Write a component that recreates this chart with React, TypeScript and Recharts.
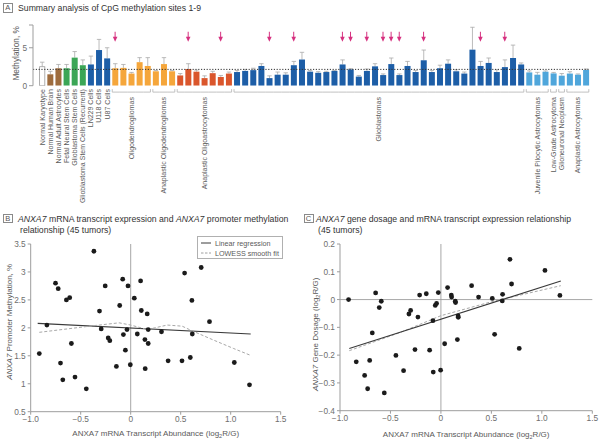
import React from 'react';
import { ComposedChart, Bar, XAxis, YAxis, ReferenceLine, Scatter, Line } from 'recharts';

const FONT = '"Liberation Sans", Arial, Helvetica, sans-serif';
const AXIS_COLOR = '#9d9d9d';
const TICK_COLOR = '#6e6e6e';
const LABEL_COLOR = '#5a5a5a';

// ---------------- Panel A data ----------------
const sampleLabels = [
  'Normal Karyotype', 'Normal Human Brain', 'Normal Adult Astrocytes', 'Fetal Neural Stem Cells',
  'Glioblastoma Stem Cells', 'Glioblastoma Stem Cells (Recurrent)', 'LN229 Cells', 'U118 Cells', 'U87 Cells',
];
const sampleColors = ['#ffffff', '#9e6c3e', '#9e6c3e', '#3ba656', '#3ba656', '#3ba656', '#1d5ea7', '#1d5ea7', '#1d5ea7'];
const groupLabels = [
  'Oligodendrogliomas', 'Anaplastic Oligodendrogliomas', 'Anaplastic Oligoastrocytomas', 'Glioblastomas',
  'Juvenile Pilocytic Astrocytomas', 'Low-Grade Astrocytoma', 'Glioneuronal Neoplasm', 'Anaplastic Astrocytomas',
];
const groupSizes = [5, 3, 7, 36, 3, 1, 1, 3];
const groupColors = ['#f5a63b', '#f5a63b', '#da562c', '#1d5ea7', '#4fa6db', '#4fa6db', '#4fa6db', '#4fa6db'];

const methylation = [
  2.5, 1.5, 2.3, 2.3, 3.7, 2.7, 2.8, 4.7, 3.6,
  2.3, 2.35, 1.6, 3.1, 2.6,
  1.9, 2.85, 1.9,
  1.35, 2.2, 1.85, 1.0, 1.65, 1.15, 1.6,
  1.8, 1.95, 2.05, 2.6, 1.0, 1.45, 1.45, 2.7, 3.45, 1.85, 1.7, 1.8, 1.95, 2.8, 2.15, 1.2, 1.95, 2.55,
  1.4, 2.85, 1.4, 2.6, 1.8, 3.35, 1.8, 2.3, 2.9, 1.9, 1.6, 4.75, 2.6, 3.0, 1.8, 2.45, 3.65, 2.8,
  1.75, 1.45, 1.84, 1.62, 1.32, 1.6, 1.45, 2.07,
];
const methylationUpper = [
  3.1, 1.9, 2.8, 2.8, 4.5, 3.4, 3.9, 6.1, 5.0,
  2.9, 2.8, 1.75, 3.7, 3.7,
  2.0, 3.7, 2.0,
  1.6, 2.9, 2.05, 1.3, 1.9, 1.35, 1.8,
  2.0, 2.15, 2.3, 2.9, 1.3, 1.8, 1.7, 3.2, 4.4, 2.0, 1.85, 1.9, 2.0, 3.4, 2.25, 1.35, 2.2, 2.9,
  1.55, 3.65, 1.55, 3.2, 2.0, 4.7, 2.0, 2.7, 3.4, 2.1, 1.8, 7.7, 3.2, 3.65, 2.1, 3.4, 5.35, 3.0,
  1.95, 1.76, 1.95, 1.75, 1.6, 1.84, 1.55, 2.2,
];
const arrowBars = [10, 19, 23, 29, 32, 38, 39, 41, 43, 44, 45, 48, 55, 58];
const ARROW_LEVEL = 6.45;
const REFERENCE_LEVEL = 2.15;
const aYTicks = [0, 5, 8];

// ---------------- Panel B data ----------------
const bX = [
  -0.914, -0.838, -0.752, -0.725, -0.702, -0.679, -0.643, -0.61, -0.593, -0.557, -0.444, -0.368, -0.312,
  -0.295, -0.255, -0.225, -0.209, -0.143, -0.11, -0.08, -0.073, -0.053, -0.037, -0.027, -0.004, 0.036,
  0.066, 0.099, 0.106, 0.142, 0.145, 0.165, 0.175, 0.175, 0.308, 0.374, 0.513, 0.539, 0.596, 0.612,
  0.616, 0.705, 0.788, 1.036, 1.188,
];
const bY = [
  1.54, 2.05, 2.8, 2.7, 1.37, 1.07, 2.5, 2.54, 1.72, 1.12, 0.91, 3.37, 2.3, 1.98, 2.75, 1.82, 1.77,
  1.31, 2.4, 2.87, 1.88, 1.6, 1.97, 2.75, 1.34, 2.53, 1.89, 2.84, 2.31, 1.79, 1.27, 2.25, 1.97, 1.72,
  1.93, 1.41, 1.41, 2.98, 1.47, 2.49, 1.89, 3.08, 2.11, 1.38, 0.98,
];
const bLinearX = [-0.93, 1.2];
const bLinearY = [2.08, 1.89];
const bLowessX = [-0.914, -0.365, -0.116, 0.0, 0.166, 0.365, 0.515, 0.598, 0.83, 1.03, 1.196];
const bLowessY = [1.92, 2.04, 2.09, 2.05, 1.97, 2.05, 2.03, 1.96, 1.78, 1.63, 1.51];
const bYTicks = [0.5, 1, 1.5, 2, 2.5, 3, 3.5];

// ---------------- Panel C data ----------------
const cX = [
  -0.915, -0.839, -0.756, -0.726, -0.706, -0.68, -0.647, -0.611, -0.591, -0.561, -0.446, -0.37, -0.317,
  -0.3, -0.257, -0.228, -0.211, -0.145, -0.112, -0.079, -0.076, -0.056, -0.043, -0.026, -0.003, 0.037,
  0.066, 0.103, 0.106, 0.142, 0.145, 0.163, 0.17, 0.172, 0.304, 0.373, 0.509, 0.532, 0.608, 0.611,
  0.684, 0.7, 0.776, 1.031, 1.179,
];
const cY = [
  0.0, -0.224, -0.273, -0.321, -0.219, -0.12, 0.024, -0.029, -0.006, -0.336, -0.201, -0.256, -0.052,
  -0.039, -0.18, -0.063, 0.016, 0.021, -0.182, -0.076, -0.261, -0.021, -0.014, 0.025, -0.254, -0.159,
  0.043, 0.016, 0.009, -0.006, -0.011, -0.144, -0.059, -0.064, 0.05, 0.009, 0.004, -0.125, -0.005,
  0.019, 0.145, 0.056, -0.176, 0.105, 0.015,
];
const cLinearX = [-0.908, 1.188];
const cLinearY = [-0.176, 0.067];
const cLowessX = [-0.908, -0.4, 0.0, 0.5, 1.188];
const cLowessY = [-0.184, -0.118, -0.058, -0.008, 0.05];
const cYTicks = [-0.4, -0.3, -0.2, -0.1, 0, 0.1, 0.2];

const mrnaTicks = [-1, -0.5, 0, 0.5, 1, 1.5];

// ---------------- derived tables ----------------
type ABar = {
  id: string; value: number; upper: number; color: string; sample: string;
  group: number; pos: number; size: number; arrow: number | null;
};
const aData: ABar[] = methylation.map((v, i) => {
  let group = -1, pos = 0, size = 0;
  if (i >= sampleLabels.length) {
    let k = i - sampleLabels.length;
    for (let g = 0; g < groupSizes.length; g++) {
      if (k < groupSizes[g]) { group = g; pos = k; size = groupSizes[g]; break; }
      k -= groupSizes[g];
    }
  }
  return {
    id: 'b' + i,
    value: v,
    upper: methylationUpper[i],
    color: group < 0 ? sampleColors[i] : groupColors[group],
    sample: group < 0 ? sampleLabels[i] : '',
    group, pos, size,
    arrow: arrowBars.includes(i + 1) ? ARROW_LEVEL : null,
  };
});
const aById: Record<string, ABar> = {};
aData.forEach((d) => { aById[d.id] = d; });

const zip = (xs: number[], ys: number[]) => xs.map((x, i) => ({ x, y: ys[i] }));
const bPoints = zip(bX, bY);
const bLinear = zip(bLinearX, bLinearY);
const bLowess = zip(bLowessX, bLowessY);
const cPoints = zip(cX, cY);
const cLinear = zip(cLinearX, cLinearY);
const cLowess = zip(cLowessX, cLowessY);

// ---------------- layout constants ----------------
const A_W = 600;
const A_H = 215;
const A_MARGIN = { top: 25, right: 10, left: 0, bottom: 0 };
const A_YAXIS_W = 33;
const A_PAD_LEFT = 5;
const A_XAXIS_H = 129.3;
const BAND = (A_W - A_MARGIN.right - A_MARGIN.left - A_YAXIS_W - A_PAD_LEFT) / aData.length;

// ---------------- renderers ----------------
const fmtSigned1 = (v: number) => (v === 0 ? '0' : (v < 0 ? '\u2212' : '') + Math.abs(v).toFixed(1));
const fmtPlain = (v: number) => String(v);

function BarShape(props: any) {
  const { x, y, width, height, payload } = props;
  if (!payload || !isFinite(height) || height <= 0) return <g />;
  const perUnit = height / payload.value;
  const topY = y - (payload.upper - payload.value) * perUnit;
  const cx = x + width / 2;
  const isWhite = payload.color === '#ffffff';
  return (
    <g>
      {payload.upper > payload.value && (
        <g stroke="#a9a9a9" strokeWidth={0.8}>
          <line x1={cx} x2={cx} y1={y} y2={topY} />
          <line x1={cx - 2.2} x2={cx + 2.2} y1={topY} y2={topY} />
        </g>
      )}
      <rect
        x={isWhite ? x + 0.4 : x}
        y={y}
        width={isWhite ? width - 0.8 : width}
        height={height}
        fill={payload.color}
        stroke={isWhite ? '#9a9a9a' : 'none'}
        strokeWidth={0.8}
      />
    </g>
  );
}

function ArrowShape(props: any) {
  const { cx, cy, payload } = props;
  if (!payload || payload.arrow == null || !isFinite(cx) || !isFinite(cy)) return <g />;
  const c = '#d6307f';
  return (
    <g>
      <line x1={cx} x2={cx} y1={cy - 5} y2={cy + 1} stroke={c} strokeWidth={1} />
      <path d={`M${cx - 2.3},${cy} L${cx + 2.3},${cy} L${cx},${cy + 5} Z`} fill={c} />
    </g>
  );
}

function ATick(props: any) {
  const { x, y, payload } = props;
  const d = aById[payload && payload.value];
  if (!d) return <g />;
  if (d.group < 0) {
    return (
      <text
        transform={`translate(${x + 2.5},${y + 3.4}) rotate(-90)`}
        textAnchor="end"
        fontSize={7}
        fill={LABEL_COLOR}
        fontFamily={FONT}
      >
        {d.sample}
      </text>
    );
  }
  const half = BAND / 2;
  const first = d.pos === 0;
  const last = d.pos === d.size - 1;
  const x1 = first ? x - half + 1.2 : x - half;
  const x2 = last ? x + half - 1.2 : x + half;
  const by = y + 6.4;
  return (
    <g>
      <g stroke="#b3b3b3" strokeWidth={0.8}>
        <line x1={x1} x2={x2} y1={by} y2={by} />
        {first && <line x1={x1} x2={x1} y1={by} y2={by - 3} />}
        {last && <line x1={x2} x2={x2} y1={by} y2={by - 3} />}
      </g>
      {first && (
        <text
          transform={`translate(${x + ((d.size - 1) / 2) * BAND + 2.5},${y + 11.4}) rotate(-90)`}
          textAnchor="end"
          fontSize={7}
          fill={LABEL_COLOR}
          fontFamily={FONT}
        >
          {groupLabels[d.group]}
        </text>
      )}
    </g>
  );
}

function Dot(props: any) {
  const { cx, cy } = props;
  if (!isFinite(cx) || !isFinite(cy)) return <g />;
  return <circle cx={cx} cy={cy} r={2.4} fill="#1b1b1b" />;
}

const tickStyle = { fontSize: 8.3, fill: TICK_COLOR, fontFamily: FONT };

const mrnaTitle = (dy: number) => (props: any) => {
  const vb = props.viewBox || { x: 0, y: 0, width: 0 };
  return (
    <text x={vb.x + vb.width / 2} y={vb.y + dy} textAnchor="middle" fontSize={8} fill={LABEL_COLOR} fontFamily={FONT}>
      ANXA7 mRNA Transcript Abundance (log<tspan fontSize={5.5} dy={2}>2</tspan>
      <tspan dy={-2}>R/G)</tspan>
    </text>
  );
};

const aYTitle = (props: any) => {
  const vb = props.viewBox || { x: 0, y: 0, height: 0 };
  return (
    <text
      transform={`translate(${vb.x + 19},${vb.y + vb.height / 2 - 2}) rotate(-90)`}
      textAnchor="middle"
      fontSize={8.3}
      fill={LABEL_COLOR}
      fontFamily={FONT}
    >
      Methylation, %
    </text>
  );
};

const bYTitle = (props: any) => {
  const vb = props.viewBox || { x: 0, y: 0, height: 0 };
  return (
    <text
      transform={`translate(${vb.x + 11.5},${vb.y + vb.height / 2 - 6}) rotate(-90)`}
      textAnchor="middle"
      fontSize={8}
      fill={LABEL_COLOR}
      fontFamily={FONT}
    >
      <tspan fontStyle="italic">ANXA7</tspan> Promoter Methylation, %
    </text>
  );
};

const cYTitle = (props: any) => {
  const vb = props.viewBox || { x: 0, y: 0, height: 0 };
  return (
    <text
      transform={`translate(${vb.x + 18},${vb.y + vb.height / 2 + 7}) rotate(-90)`}
      textAnchor="middle"
      fontSize={8}
      fill={LABEL_COLOR}
      fontFamily={FONT}
    >
      <tspan fontStyle="italic">ANXA7</tspan> Gene Dosage (log<tspan fontSize={5.5} dy={2}>2</tspan>
      <tspan dy={-2}>R/G)</tspan>
    </text>
  );
};

function PanelHeading(props: { letter: string; boxLeft: number; textLeft: number; baseline: number; lines: React.ReactNode[] }) {
  const { letter, boxLeft, textLeft, baseline, lines } = props;
  return (
    <>
      <div
        style={{
          position: 'absolute', left: boxLeft, top: baseline - 8.4, width: 10, height: 9.4,
          boxSizing: 'border-box', border: '0.8px solid #8a8a8a', fontSize: 7.5, lineHeight: '8px',
          textAlign: 'center', color: '#555',
        }}
      >
        {letter}
      </div>
      <div
        style={{
          position: 'absolute', left: textLeft, top: baseline - 8.5, fontSize: 8.7, lineHeight: '11px',
          color: '#333333', whiteSpace: 'nowrap',
        }}
      >
        {lines.map((l, i) => (
          <div key={i} style={{ paddingLeft: i > 0 ? 2 : 0 }}>{l}</div>
        ))}
      </div>
    </>
  );
}

export default function App() {
  return (
    <div
      style={{
        position: 'absolute', left: 0, top: 0, width: 600, height: 440, background: '#ffffff',
        fontFamily: FONT, overflow: 'hidden',
      }}
    >
      {/* Panel A */}
      <div style={{ position: 'absolute', left: 0, top: 0 }}>
        <ComposedChart width={A_W} height={A_H} data={aData} margin={A_MARGIN} barCategoryGap="15%">
          <XAxis
            dataKey="id"
            interval={0}
            height={A_XAXIS_H}
            tickSize={0}
            tickMargin={0}
            tickLine={false}
            axisLine={false}
            padding={{ left: A_PAD_LEFT, right: 0 }}
            tick={ATick}
          />
          <YAxis
            type="number"
            domain={[0, 8]}
            ticks={aYTicks}
            tickFormatter={(v: number) => (v === 8 ? '' : String(v))}
            width={A_YAXIS_W}
            tickSize={4}
            tickMargin={2}
            stroke={AXIS_COLOR}
            tick={tickStyle}
            allowDataOverflow
            label={aYTitle}
          />
          <ReferenceLine y={REFERENCE_LEVEL} stroke="#333" strokeWidth={1} strokeDasharray="1.2 1.6" />
          <Bar dataKey="value" isAnimationActive={false} shape={BarShape} />
          <Scatter dataKey="arrow" isAnimationActive={false} shape={ArrowShape} />
        </ComposedChart>
      </div>

      {/* Panel B */}
      <div style={{ position: 'absolute', left: 0, top: 215 }}>
        <ComposedChart width={300} height={225} margin={{ top: 29, right: 19.3, left: 0, bottom: 0 }}>
          <XAxis
            type="number"
            dataKey="x"
            domain={[-1, 1.5]}
            ticks={mrnaTicks}
            tickFormatter={fmtSigned1}
            height={28.3}
            tickSize={3}
            tickMargin={1.5}
            stroke={AXIS_COLOR}
            tick={tickStyle}
            allowDataOverflow
            label={mrnaTitle(24.5)}
          />
          <YAxis
            type="number"
            domain={[0.5, 3.5]}
            ticks={bYTicks}
            tickFormatter={fmtPlain}
            width={30.7}
            tickSize={3}
            tickMargin={2}
            stroke={AXIS_COLOR}
            tick={tickStyle}
            allowDataOverflow
            label={bYTitle}
          />
          <ReferenceLine x={0} stroke={AXIS_COLOR} strokeWidth={0.9} />
          <Line data={bLinear} dataKey="y" stroke="#3a3a3a" strokeWidth={1.1} dot={false} isAnimationActive={false} />
          <Line data={bLowess} dataKey="y" stroke="#a8a8a8" strokeWidth={1} strokeDasharray="3 2" dot={false} isAnimationActive={false} />
          <Scatter data={bPoints} dataKey="y" shape={Dot} isAnimationActive={false} />
        </ComposedChart>
        <div
          style={{
            position: 'absolute', left: 197, top: 21, width: 86, height: 23, boxSizing: 'border-box',
            border: '0.8px solid #b0b0b0', background: '#fff',
          }}
        >
          <svg width={85} height={22} style={{ display: 'block' }}>
            <line x1={3} x2={13} y1={6} y2={6} stroke="#3a3a3a" strokeWidth={1} />
            <text x={17} y={8.6} fontSize={7.2} fill={LABEL_COLOR} fontFamily={FONT}>Linear regression</text>
            <line x1={3} x2={13} y1={16} y2={16} stroke="#a0a0a0" strokeWidth={1} strokeDasharray="2.5 1.5" />
            <text x={17} y={18.6} fontSize={7.2} fill={LABEL_COLOR} fontFamily={FONT}>LOWESS smooth fit</text>
          </svg>
        </div>
      </div>

      {/* Panel C */}
      <div style={{ position: 'absolute', left: 300, top: 215 }}>
        <ComposedChart width={300} height={225} margin={{ top: 29, right: 7.7, left: 0, bottom: 0 }}>
          <XAxis
            type="number"
            dataKey="x"
            domain={[-1, 1.5]}
            ticks={mrnaTicks}
            tickFormatter={fmtSigned1}
            height={29.3}
            tickSize={3}
            tickMargin={1.5}
            stroke={AXIS_COLOR}
            tick={tickStyle}
            allowDataOverflow
            label={mrnaTitle(26.5)}
          />
          <YAxis
            type="number"
            domain={[-0.4, 0.2]}
            ticks={cYTicks}
            tickFormatter={fmtSigned1}
            width={40}
            tickSize={3}
            tickMargin={2}
            stroke={AXIS_COLOR}
            tick={tickStyle}
            allowDataOverflow
            label={cYTitle}
          />
          <ReferenceLine x={0} stroke={AXIS_COLOR} strokeWidth={0.9} />
          <ReferenceLine y={0} stroke={AXIS_COLOR} strokeWidth={0.9} />
          <Line data={cLowess} dataKey="y" stroke="#a8a8a8" strokeWidth={1} strokeDasharray="3 2" dot={false} isAnimationActive={false} />
          <Line data={cLinear} dataKey="y" stroke="#3a3a3a" strokeWidth={1.1} dot={false} isAnimationActive={false} />
          <Scatter data={cPoints} dataKey="y" shape={Dot} isAnimationActive={false} />
        </ComposedChart>
      </div>

      {/* Headings */}
      <PanelHeading
        letter="A"
        boxLeft={2.7}
        textLeft={18}
        baseline={11.7}
        lines={['Summary analysis of CpG methylation sites 1-9']}
      />
      <PanelHeading
        letter="B"
        boxLeft={2.7}
        textLeft={18}
        baseline={222.5}
        lines={[
          <span key="b1"><i>ANXA7</i> mRNA transcript expression and <i>ANXA7</i> promoter methylation</span>,
          'relationship (45 tumors)',
        ]}
      />
      <PanelHeading
        letter="C"
        boxLeft={303.5}
        textLeft={316}
        baseline={222.5}
        lines={[
          <span key="c1"><i>ANXA7</i> gene dosage and mRNA transcript expression relationship</span>,
          '(45 tumors)',
        ]}
      />
    </div>
  );
}
